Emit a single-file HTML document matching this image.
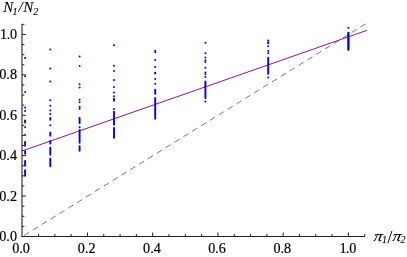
<!DOCTYPE html>
<html><head><meta charset="utf-8"><title>plot</title>
<style>
html,body{margin:0;padding:0;background:#fff;}
body{width:407px;height:257px;overflow:hidden;font-family:"Liberation Serif",serif;}
svg{display:block;will-change:transform;}
.t,.t text,.t tspan{font-family:"Liberation Serif",serif;}
</style></head><body>
<svg width="407" height="257" viewBox="0 0 407 257">
<rect width="407" height="257" fill="#fff"/>
<line x1="22.30" y1="236.60" x2="365.58" y2="23.89" stroke="#787878" stroke-width="1" stroke-dasharray="6.0 4.417" stroke-dashoffset="8.42"/>
<line x1="22.30" y1="150.9" x2="366.8" y2="30.4" stroke="#880888" stroke-width="0.95"/>
<g fill="#0000ff" stroke="#0000ff" stroke-linecap="round">
<circle cx="25.1" cy="57.9" r="1.0" stroke="none"/>
<circle cx="25.1" cy="76.2" r="1.0" stroke="none"/>
<circle cx="25.1" cy="92.0" r="1.0" stroke="none"/>
<circle cx="25.1" cy="107.5" r="1.0" stroke="none"/>
<circle cx="25.1" cy="111.1" r="1.0" stroke="none"/>
<circle cx="25.1" cy="127.3" r="1.0" stroke="none"/>
<circle cx="25.1" cy="135.1" r="1.0" stroke="none"/>
<line x1="25.1" y1="120.55" x2="25.1" y2="122.55" stroke-width="1.9"/>
<line x1="25.1" y1="141.95" x2="25.1" y2="145.85" stroke-width="1.9"/>
<line x1="25.1" y1="151.25" x2="25.1" y2="153.75" stroke-width="1.9"/>
<line x1="25.1" y1="161.05" x2="25.1" y2="165.85" stroke-width="1.9"/>
<line x1="25.1" y1="170.25" x2="25.1" y2="175.75" stroke-width="1.9"/>
<circle cx="50.3" cy="49.4" r="1.0" stroke="none"/>
<circle cx="50.3" cy="68.5" r="1.0" stroke="none"/>
<circle cx="50.3" cy="81.6" r="1.0" stroke="none"/>
<circle cx="50.3" cy="100.2" r="1.0" stroke="none"/>
<circle cx="50.3" cy="105.7" r="1.0" stroke="none"/>
<circle cx="50.3" cy="110.6" r="1.0" stroke="none"/>
<circle cx="50.3" cy="113.9" r="1.0" stroke="none"/>
<circle cx="50.3" cy="125.3" r="1.0" stroke="none"/>
<line x1="50.3" y1="117.85" x2="50.3" y2="119.75" stroke-width="1.9"/>
<line x1="50.3" y1="132.45" x2="50.3" y2="135.65" stroke-width="1.9"/>
<line x1="50.3" y1="140.95" x2="50.3" y2="143.45" stroke-width="1.9"/>
<line x1="50.3" y1="147.75" x2="50.3" y2="154.75" stroke-width="1.9"/>
<line x1="50.3" y1="158.65" x2="50.3" y2="166.35" stroke-width="1.9"/>
<circle cx="79.6" cy="56.6" r="1.0" stroke="none"/>
<circle cx="79.6" cy="66.0" r="1.0" stroke="none"/>
<circle cx="79.6" cy="84.2" r="1.0" stroke="none"/>
<circle cx="79.6" cy="87.5" r="1.0" stroke="none"/>
<circle cx="79.6" cy="99.8" r="1.0" stroke="none"/>
<circle cx="79.6" cy="102.2" r="1.0" stroke="none"/>
<circle cx="79.6" cy="106.7" r="1.0" stroke="none"/>
<circle cx="79.6" cy="108.8" r="1.0" stroke="none"/>
<circle cx="79.6" cy="127.2" r="1.0" stroke="none"/>
<line x1="79.6" y1="117.85" x2="79.6" y2="123.35" stroke-width="1.9"/>
<line x1="79.6" y1="129.85" x2="79.6" y2="142.85" stroke-width="1.9"/>
<line x1="79.6" y1="146.25" x2="79.6" y2="150.75" stroke-width="1.9"/>
<circle cx="114.0" cy="45.2" r="1.0" stroke="none"/>
<circle cx="114.0" cy="65.7" r="1.0" stroke="none"/>
<circle cx="114.0" cy="71.1" r="1.0" stroke="none"/>
<circle cx="114.0" cy="79.9" r="1.0" stroke="none"/>
<circle cx="114.0" cy="87.1" r="1.0" stroke="none"/>
<circle cx="114.0" cy="92.6" r="1.0" stroke="none"/>
<line x1="114.0" y1="96.25" x2="114.0" y2="96.35" stroke-width="1.9"/>
<line x1="114.0" y1="98.75" x2="114.0" y2="100.75" stroke-width="1.9"/>
<line x1="114.0" y1="108.85" x2="114.0" y2="108.95" stroke-width="1.9"/>
<line x1="114.0" y1="111.65" x2="114.0" y2="124.65" stroke-width="1.9"/>
<line x1="114.0" y1="127.85" x2="114.0" y2="137.75" stroke-width="1.9"/>
<circle cx="155.2" cy="50.7" r="1.0" stroke="none"/>
<circle cx="155.2" cy="52.3" r="1.0" stroke="none"/>
<circle cx="155.2" cy="60.0" r="1.0" stroke="none"/>
<circle cx="155.2" cy="67.1" r="1.0" stroke="none"/>
<circle cx="155.2" cy="72.7" r="1.0" stroke="none"/>
<circle cx="155.2" cy="73.6" r="1.0" stroke="none"/>
<circle cx="155.2" cy="79.1" r="1.0" stroke="none"/>
<circle cx="155.2" cy="83.8" r="1.0" stroke="none"/>
<line x1="155.2" y1="89.65" x2="155.2" y2="93.85" stroke-width="1.9"/>
<line x1="155.2" y1="97.95" x2="155.2" y2="118.75" stroke-width="1.9"/>
<circle cx="205.4" cy="42.7" r="1.0" stroke="none"/>
<circle cx="205.4" cy="53.2" r="1.0" stroke="none"/>
<circle cx="205.4" cy="57.5" r="1.0" stroke="none"/>
<circle cx="205.4" cy="60.2" r="1.0" stroke="none"/>
<circle cx="205.4" cy="62.0" r="1.0" stroke="none"/>
<circle cx="205.4" cy="67.8" r="1.0" stroke="none"/>
<circle cx="205.4" cy="72.5" r="1.0" stroke="none"/>
<circle cx="205.4" cy="74.3" r="1.0" stroke="none"/>
<circle cx="205.4" cy="76.9" r="1.0" stroke="none"/>
<circle cx="205.4" cy="101.6" r="1.0" stroke="none"/>
<line x1="205.4" y1="81.45" x2="205.4" y2="98.15" stroke-width="1.9"/>
<circle cx="268.2" cy="40.6" r="1.0" stroke="none"/>
<circle cx="268.2" cy="42.2" r="1.0" stroke="none"/>
<circle cx="268.2" cy="43.3" r="1.0" stroke="none"/>
<circle cx="268.2" cy="46.3" r="1.0" stroke="none"/>
<circle cx="268.2" cy="50.9" r="1.0" stroke="none"/>
<circle cx="268.2" cy="53.2" r="1.0" stroke="none"/>
<circle cx="268.2" cy="77.4" r="1.0" stroke="none"/>
<line x1="268.2" y1="57.75" x2="268.2" y2="73.75" stroke-width="1.9"/>
<circle cx="348.4" cy="27.8" r="1.0" stroke="none"/>
<line x1="348.4" y1="32.98" x2="348.4" y2="49.53" stroke-width="2.35"/>
</g>
<g stroke="#000" stroke-width="1" fill="none">
<line x1="22.0" y1="24" x2="22.0" y2="237.0" stroke="#111"/>
<line x1="21.5" y1="236.5" x2="365" y2="236.5" stroke="#222"/>
</g>
<g stroke="#222" stroke-width="1" fill="none">
<line x1="38.51" y1="236.5" x2="38.51" y2="234.0"/>
<line x1="22.0" y1="226.35" x2="24.4" y2="226.35"/>
<line x1="54.81999999999999" y1="236.5" x2="54.81999999999999" y2="234.0"/>
<line x1="22.0" y1="216.25" x2="24.4" y2="216.25"/>
<line x1="71.13000000000001" y1="236.5" x2="71.13000000000001" y2="234.0"/>
<line x1="22.0" y1="206.14999999999998" x2="24.4" y2="206.14999999999998"/>
<line x1="87.44" y1="236.5" x2="87.44" y2="232.5"/>
<line x1="22.0" y1="196.04999999999998" x2="25.9" y2="196.04999999999998"/>
<line x1="103.75" y1="236.5" x2="103.75" y2="234.0"/>
<line x1="22.0" y1="185.95" x2="24.4" y2="185.95"/>
<line x1="120.06000000000002" y1="236.5" x2="120.06000000000002" y2="234.0"/>
<line x1="22.0" y1="175.84999999999997" x2="24.4" y2="175.84999999999997"/>
<line x1="136.37" y1="236.5" x2="136.37" y2="234.0"/>
<line x1="22.0" y1="165.75" x2="24.4" y2="165.75"/>
<line x1="152.67999999999998" y1="236.5" x2="152.67999999999998" y2="232.5"/>
<line x1="22.0" y1="155.64999999999998" x2="25.9" y2="155.64999999999998"/>
<line x1="168.98999999999998" y1="236.5" x2="168.98999999999998" y2="234.0"/>
<line x1="22.0" y1="145.54999999999998" x2="24.4" y2="145.54999999999998"/>
<line x1="185.29999999999998" y1="236.5" x2="185.29999999999998" y2="234.0"/>
<line x1="22.0" y1="135.45" x2="24.4" y2="135.45"/>
<line x1="201.60999999999999" y1="236.5" x2="201.60999999999999" y2="234.0"/>
<line x1="22.0" y1="125.34999999999998" x2="24.4" y2="125.34999999999998"/>
<line x1="217.92000000000002" y1="236.5" x2="217.92000000000002" y2="232.5"/>
<line x1="22.0" y1="115.24999999999997" x2="25.9" y2="115.24999999999997"/>
<line x1="234.23" y1="236.5" x2="234.23" y2="234.0"/>
<line x1="22.0" y1="105.14999999999998" x2="24.4" y2="105.14999999999998"/>
<line x1="250.54" y1="236.5" x2="250.54" y2="234.0"/>
<line x1="22.0" y1="95.04999999999998" x2="24.4" y2="95.04999999999998"/>
<line x1="266.84999999999997" y1="236.5" x2="266.84999999999997" y2="234.0"/>
<line x1="22.0" y1="84.94999999999999" x2="24.4" y2="84.94999999999999"/>
<line x1="283.15999999999997" y1="236.5" x2="283.15999999999997" y2="232.5"/>
<line x1="22.0" y1="74.84999999999997" x2="25.9" y2="74.84999999999997"/>
<line x1="299.47" y1="236.5" x2="299.47" y2="234.0"/>
<line x1="22.0" y1="64.74999999999997" x2="24.4" y2="64.74999999999997"/>
<line x1="315.78" y1="236.5" x2="315.78" y2="234.0"/>
<line x1="22.0" y1="54.64999999999998" x2="24.4" y2="54.64999999999998"/>
<line x1="332.09" y1="236.5" x2="332.09" y2="234.0"/>
<line x1="22.0" y1="44.54999999999998" x2="24.4" y2="44.54999999999998"/>
<line x1="348.4" y1="236.5" x2="348.4" y2="232.5"/>
<line x1="22.0" y1="34.44999999999999" x2="25.9" y2="34.44999999999999"/>
<line x1="364.71" y1="236.5" x2="364.71" y2="234.0"/>
<line x1="22.0" y1="24.349999999999966" x2="24.4" y2="24.349999999999966"/>
</g>
<g class="t" font-size="14.2px" fill="#000" stroke="#000" stroke-width="0.2" letter-spacing="0">
<text x="21.00" y="252.7" text-anchor="middle">0.0</text>
<text x="17.0" y="240.90" text-anchor="end">0.0</text>
<text x="86.70" y="252.7" text-anchor="middle">0.2</text>
<text x="17.0" y="200.50" text-anchor="end">0.2</text>
<text x="151.90" y="252.7" text-anchor="middle">0.4</text>
<text x="17.0" y="160.10" text-anchor="end">0.4</text>
<text x="217.10" y="252.7" text-anchor="middle">0.6</text>
<text x="17.0" y="119.70" text-anchor="end">0.6</text>
<text x="282.30" y="252.7" text-anchor="middle">0.8</text>
<text x="17.0" y="79.30" text-anchor="end">0.8</text>
<text x="347.70" y="252.7" text-anchor="middle" letter-spacing="-0.4">1.0</text>
<text x="16.6" y="38.90" text-anchor="end" letter-spacing="-0.4">1.0</text>
<g font-style="italic" font-size="15px" stroke-width="0.1" letter-spacing="0"><text x="3.3" y="12.3">N</text><text x="12.4" y="14.6" font-size="10px">1</text><text x="18.6" y="12.3">/</text><text x="23.2" y="12.3">N</text><text x="33.3" y="14.6" font-size="10px">2</text></g>
<g font-style="italic" font-size="14.5px" stroke-width="0.1" letter-spacing="0"><text transform="translate(373.3,240.9) scale(1.2,1.04) skewX(-9)">π</text><text x="382.0" y="243.3" font-size="10px">1</text><line x1="391.9" y1="231" x2="387.8" y2="243.4" stroke="#111" stroke-width="1"/><text transform="translate(391.9,240.9) scale(1.2,1.04) skewX(-9)">π</text><text x="400.5" y="243.3" font-size="10px">2</text></g>
</g>
</svg>
</body></html>
